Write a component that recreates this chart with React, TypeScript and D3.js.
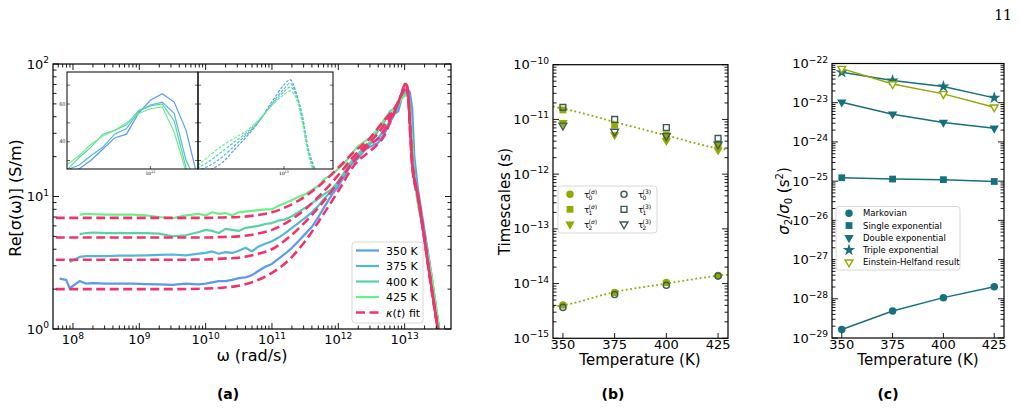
import * as d3 from 'd3'
import React from 'react'

// ---- (a) Re[sigma(omega)] spectra ----
const temps = [350, 375, 400, 425]
const tempLabels = ['350 K', '375 K', '400 K', '425 K']
const mdOmega = [6.3e7, 7.9e7, 8.9e7, 1.26e8, 1.58e8, 2e8, 3.16e8, 5e8, 7.9e8, 1.26e9, 2e9, 3.16e9, 5e9, 7.9e9, 1e10, 1.26e10, 1.58e10, 2e10, 2.5e10, 3.16e10, 4e10, 5e10, 6.3e10, 7.9e10, 1e11, 1.26e11, 1.58e11, 2e11, 2.5e11, 3.16e11, 4e11, 5e11, 6.3e11, 7.9e11, 1e12, 1.26e12, 1.58e12, 2e12, 2.5e12, 3.16e12, 4e12, 5e12, 6e12, 7e12, 8e12, 9e12, 1e13, 1.1e13, 1.2e13, 1.3e13, 1.4e13, 1.6e13, 2e13, 2.5e13, 3.3e13]
const md350 = [2.4, 2.35, 2.03, 2.3, 2.2, 2.22, 2.2, 2.2, 2.2, 2.18, 2.17, 2.15, 2.2, 2.17, 2.2, 2.25, 2.3, 2.3, 2.35, 2.42, 2.45, 2.55, 2.75, 2.95, 3.1, 3.4, 3.7, 4.1, 4.6, 5.2, 5.9, 7.0, 8.5, 10.2, 12.0, 14.5, 17.5, 19.5, 22.5, 24, 25.5, 30, 36, 42, 44, 55, 62, 65.5, 61, 46, 20, 11, 5.5, 2.7, 0.98]
const md375 = [NaN, NaN, 3.2, 3.5, 3.55, 3.55, 3.55, 3.58, 3.58, 3.6, 3.62, 3.65, 3.6, 3.7, 3.75, 3.85, 3.7, 3.8, 3.75, 3.9, 4.1, 3.85, 4.2, 4.4, 4.6, 4.9, 5.3, 5.8, 6.3, 6.9, 7.6, 8.5, 9.8, 11.0, 12.8, 15, 18, 20, 23, 25.5, 27.5, 32.5, 37, 44, 47, 56, 59.5, 61, 55, 30, 17, 9.5, 5.2, 2.6, 1.0]
const md400 = [NaN, NaN, NaN, 5.2, 5.3, 5.35, 5.3, 5.3, 5.3, 5.3, 5.25, 5.0, 5.1, 5.4, 5.6, 5.5, 5.3, 5.7, 5.6, 5.5, 5.8, 5.9, 6.0, 6.2, 6.3, 6.6, 6.7, 7.1, 7.6, 8.2, 8.9, 9.6, 10.5, 11.3, 13, 15.5, 18.5, 21, 24, 26, 31.5, 37, 44, 46, 49, 56.5, 59, 60, 51, 26, 15, 9, 5, 2.6, 1.02]
const md425 = [NaN, NaN, NaN, 7.3, 7.4, 7.35, 7.3, 7.3, 7.3, 7.2, 7.0, 6.85, 7.2, 7.4, 7.2, 7.6, 7.4, 7.5, 7.2, 7.6, 7.7, 7.8, 7.9, 8.0, 8.0, 8.5, 8.9, 9.4, 9.9, 10.4, 11.2, 12.0, 13.7, 14.5, 16.2, 18, 21, 24, 26, 28.5, 32.5, 38.5, 43, 46, 50, 55, 57.5, 58.5, 45, 24, 13, 8.5, 4.8, 2.7, 1.05]
const fitOmega = [5.5e7, 1e8, 3.16e8, 1e9, 3.16e9, 1e10, 1.78e10, 3.16e10, 5.6e10, 1e11, 1.78e11, 3.16e11, 5.6e11, 1e12, 1.78e12, 3e12, 4e12, 5e12, 6e12, 7e12, 8e12, 9e12, 1e13, 1.05e13, 1.1e13, 1.15e13, 1.2e13, 1.25e13, 1.3e13, 1.6e13, 2e13, 2.5e13, 3.2e13]
const fit350 = [2.0, 2.0, 2.0, 2.0, 2.0, 2.02, 2.05, 2.12, 2.3, 2.65, 3.3, 4.6, 7.0, 11.0, 17.5, 22, 25, 29, 36, 43, 51, 61, 70, 73, 66, 53, 36, 26, 19, 10, 4.8, 2.2, 0.98]
const fit375 = [3.33, 3.33, 3.33, 3.33, 3.33, 3.35, 3.4, 3.45, 3.65, 4.0, 4.9, 6.4, 8.8, 12.8, 19, 24.5, 27.5, 32, 38, 44, 51, 60, 68, 71, 65, 54, 35, 25, 18, 10, 4.7, 2.2, 0.97]
const fit400 = [4.9, 4.9, 4.9, 4.9, 4.9, 4.9, 4.95, 5.0, 5.2, 5.6, 6.5, 8.0, 10.5, 14.5, 20.5, 26, 30, 35, 40, 45, 51.5, 59.5, 66.5, 69, 64.5, 52, 34, 24, 17.5, 9.8, 4.7, 2.15, 0.96]
const fit425 = [6.9, 6.9, 6.9, 6.9, 6.9, 6.9, 6.95, 7.0, 7.2, 7.6, 8.5, 10, 12.5, 16.5, 22, 27.5, 33, 38, 42, 46, 52, 59, 65, 67, 63, 50, 33, 23, 17, 9.5, 4.6, 2.1, 0.95]
const xTicksA = [1e8, 1e9, 1e10, 1e11, 1e12, 1e13]
const xExpA = ['8', '9', '10', '11', '12', '13']
const yTicksA = [1, 10, 100]
const yExpA = ['0', '1', '2']
const insetTicks = [30, 40, 50, 60, 70]
const insetLabels = [40, 60]

// ---- (b) timescales ----
const tempTicks = [350, 375, 400, 425]
const tau0Sigma = [4.05e-15, 6.9e-15, 1.05e-14, 1.4e-14]
const tau1Sigma = [1.49e-11, 7.9e-12, 5.2e-12, 3.4e-12]
const tau2Sigma = [8.7e-12, 5.2e-12, 4.1e-12, 2.75e-12]
const tau0Three = [3.67e-15, 6.3e-15, 9.3e-15, 1.37e-14]
const tau1Three = [1.66e-11, 1.0e-11, 7.1e-12, 4.5e-12]
const tau2Three = [7.8e-12, 6.0e-12, 5.0e-12, 3.5e-12]
const dottedT = [345.2, 350, 375, 400, 425, 429.8]
const dottedUpper = [1.72e-11, 1.58e-11, 9.0e-12, 5.1e-12, 2.95e-12, 2.75e-12]
const dottedLower = [3.75e-15, 4.0e-15, 7.0e-15, 1.0e-14, 1.39e-14, 1.45e-14]
const yExpB = [-15, -14, -13, -12, -11, -10]

// ---- (c) sigma2/sigma0 ----
const markovian = [1.65e-29, 4.9e-29, 1.07e-28, 2.03e-28]
const singleExp = [1.22e-25, 1.13e-25, 1.09e-25, 9.8e-26]
const doubleExp = [1.03e-23, 5.1e-24, 3.15e-24, 2.23e-24]
const tripleExp = [6.0e-23, 3.7e-23, 2.6e-23, 1.33e-23]
const einsteinHelfand = [7.4e-23, 3.0e-23, 1.68e-23, 7.7e-24]
const legendC = ['Markovian', 'Single exponential', 'Double exponential', 'Triple exponential', 'Einstein-Helfand result']
const yExpC = [-29, -28, -27, -26, -25, -24, -23, -22]

const mdColors = ['#5a9bf0', '#55b6da', '#58d3a5', '#6bef8b']
const fitColor = '#f0346b'
const olive = '#94a800'
const slate = '#3e5b52'
const teal = '#17707a'
const FONT = 'DejaVu Sans, sans-serif'

const logMinor = (lo: number, hi: number) => {
    const out: number[] = []
    for (let e = Math.floor(Math.log10(lo)); e <= Math.ceil(Math.log10(hi)); e++)
        for (let k = 2; k < 10; k++) {
            const v = k * Math.pow(10, e)
            if (v > lo && v < hi) out.push(v)
        }
    return out
}
const sym = (type: any, size: number) => d3.symbol().type(type).size(size)() as string
const minus = (n: number) => (n < 0 ? '\u2212' + Math.abs(n) : String(n))

const Pow = ({ x, y, exp, anchor = 'middle', size = 13 }: any) => (
    <text x={x} y={y} textAnchor={anchor} fontSize={size}>
        10<tspan dy={-size * 0.42} fontSize={size * 0.7}>{exp}</tspan>
    </text>
)

const Tau = ({ x, y, sub, sup }: any) => (
    <g fontSize={6}>
        <text x={x} y={y} fontSize={9}>τ</text>
        <text x={x + 4.6} y={y + 2.4}>{sub}</text>
        <text x={x + 4.6} y={y - 3.4}>{sup}</text>
    </g>
)

export default function App() {
    // (a)
    const xA = d3.scaleLog().domain([5e7, 5e13]).range([53, 451])
    const yA = d3.scaleLog().domain([1, 100]).range([329, 64])
    const pts = (om: number[], v: number[]) => om.map((w, i) => [w, v[i]] as [number, number])
    const mdLine = d3.line<[number, number]>().defined(d => !isNaN(d[1])).x(d => xA(d[0])).y(d => yA(d[1]))
    const fitLine = d3.line<[number, number]>().x(d => xA(d[0])).y(d => yA(d[1])).curve(d3.curveMonotoneX)
    const mdSets = [md350, md375, md400, md425]
    const fitSets = [fit350, fit375, fit400, fit425]
    const xL = d3.scaleLinear().domain([3e12, 1.4e13]).range([67, 198])
    const xR = d3.scaleLinear().domain([3e12, 1.4e13]).range([198, 333])
    const yI = d3.scaleLinear().domain([25.5, 77]).range([169, 72])
    const insetMd = d3.line<[number, number]>().defined(d => !isNaN(d[1])).x(d => xL(d[0])).y(d => yI(d[1]))
    const insetFit = d3.line<[number, number]>().x(d => xR(d[0])).y(d => yI(d[1])).curve(d3.curveMonotoneX)
    const minorXA = logMinor(5e7, 5e13)
    const minorYA = logMinor(1, 100)

    // (b)
    const xB = d3.scaleLinear().domain([345.2, 429.8]).range([553, 728])
    const yB = d3.scaleLog().domain([1e-15, 1e-10]).range([338.3, 64.7])
    const dotB = d3.line<[number, number]>().x(d => xB(d[0])).y(d => yB(d[1])).curve(d3.curveMonotoneX)
    const minorYB = logMinor(1e-15, 1e-10)

    // (c)
    const xC = d3.scaleLinear().domain([345.2, 429.8]).range([832, 1004])
    const yC = d3.scaleLog().domain([1e-29, 1e-22]).range([338, 63.5])
    const lineC = d3.line<[number, number]>().x(d => xC(d[0])).y(d => yC(d[1]))
    const minorYC = logMinor(1e-29, 1e-22)

    const circle = sym(d3.symbolCircle, 44)
    const square = sym(d3.symbolSquare, 46)
    const tri = sym(d3.symbolTriangle, 38)
    const star = sym(d3.symbolStar, 48)
    const openTri = sym(d3.symbolTriangle, 26)

    const seriesC = [
        { v: markovian, d: circle, rot: false },
        { v: singleExp, d: square, rot: false },
        { v: doubleExp, d: tri, rot: true },
        { v: tripleExp, d: star, rot: false },
    ]

    return (
        <svg width={1021} height={409} style={{ position: 'absolute', left: 0, top: 0, background: 'white' }} fontFamily={FONT}>
            <defs>
                <clipPath id="clipA"><rect x={53} y={64} width={398} height={265} /></clipPath>
                <clipPath id="clipL"><rect x={67} y={72} width={131} height={97} /></clipPath>
                <clipPath id="clipR"><rect x={198} y={72} width={135} height={97} /></clipPath>
            </defs>
            <text x={1012} y={20} textAnchor="end" fontSize={14} fontFamily="DejaVu Serif, serif">11</text>

            {/* ---------- (a) ---------- */}
            <g clipPath="url(#clipA)">
                {mdSets.map((v, i) => (
                    <path key={'md' + i} d={mdLine(pts(mdOmega, v)) || ''} fill="none" stroke={mdColors[i]} strokeWidth={2.2} strokeLinejoin="round" />
                ))}
                {fitSets.map((v, i) => (
                    <path key={'fit' + i} d={fitLine(pts(fitOmega, v)) || ''} fill="none" stroke={fitColor} strokeWidth={2.6} strokeDasharray="9,4.5" />
                ))}
            </g>
            <g stroke="black" strokeWidth={0.9}>
                {xTicksA.map(t => (
                    <g key={'xa' + t}>
                        <line x1={xA(t)} x2={xA(t)} y1={329} y2={323} />
                        <line x1={xA(t)} x2={xA(t)} y1={64} y2={70} />
                    </g>
                ))}
                {minorXA.map(t => (
                    <g key={'xam' + t}>
                        <line x1={xA(t)} x2={xA(t)} y1={329} y2={325.5} />
                        <line x1={xA(t)} x2={xA(t)} y1={64} y2={67.5} />
                    </g>
                ))}
                {yTicksA.map(t => (
                    <g key={'ya' + t}>
                        <line x1={53} x2={59} y1={yA(t)} y2={yA(t)} />
                        <line x1={451} x2={445} y1={yA(t)} y2={yA(t)} />
                    </g>
                ))}
                {minorYA.map(t => (
                    <g key={'yam' + t}>
                        <line x1={53} x2={56.5} y1={yA(t)} y2={yA(t)} />
                        <line x1={451} x2={447.5} y1={yA(t)} y2={yA(t)} />
                    </g>
                ))}
            </g>
            <rect x={53} y={64} width={398} height={265} fill="none" stroke="black" strokeWidth={1.2} />
            {xTicksA.map((t, i) => <Pow key={'xla' + t} x={xA(t)} y={344} exp={xExpA[i]} />)}
            {yTicksA.map((t, i) => <Pow key={'yla' + t} x={49} y={yA(t) + 4.5} exp={yExpA[i]} anchor="end" />)}
            <text x={252} y={361} textAnchor="middle" fontSize={16}>ω (rad/s)</text>
            <text transform="translate(21,198) rotate(-90)" textAnchor="middle" fontSize={16}>Re[σ(ω)] (S/m)</text>

            {/* insets */}
            <rect x={67} y={72} width={266} height={97} fill="white" />
            <g clipPath="url(#clipL)">
                {mdSets.map((v, i) => (
                    <path key={'imd' + i} d={insetMd(pts(mdOmega, v)) || ''} fill="none" stroke={mdColors[i]} strokeWidth={1.2} />
                ))}
            </g>
            <g clipPath="url(#clipR)">
                {fitSets.map((v, i) => (
                    <path key={'ifit' + i} d={insetFit(pts(fitOmega, v)) || ''} fill="none" stroke={mdColors[i]} strokeWidth={1.2} strokeDasharray="3,1.5" />
                ))}
            </g>
            <g stroke="black" strokeWidth={0.6}>
                {insetTicks.map(t => (
                    <g key={'it' + t}>
                        <line x1={67} x2={70} y1={yI(t)} y2={yI(t)} />
                        <line x1={198} x2={195} y1={yI(t)} y2={yI(t)} />
                        <line x1={198} x2={201} y1={yI(t)} y2={yI(t)} />
                        <line x1={333} x2={330} y1={yI(t)} y2={yI(t)} />
                    </g>
                ))}
                <line x1={xL(1e13)} x2={xL(1e13)} y1={169} y2={166} />
                <line x1={xR(1e13)} x2={xR(1e13)} y1={169} y2={166} />
            </g>
            <rect x={67} y={72} width={131} height={97} fill="none" stroke="black" strokeWidth={1} />
            <rect x={198} y={72} width={135} height={97} fill="none" stroke="black" strokeWidth={1} />
            {insetLabels.map(t => (
                <text key={'il' + t} x={65.5} y={yI(t) + 1.8} textAnchor="end" fontSize={5} fill="#333">{t}</text>
            ))}
            <Pow x={xL(1e13)} y={175} exp="13" size={4.5} />
            <Pow x={xR(1e13)} y={175} exp="13" size={4.5} />

            {/* legend (a) */}
            <rect x={352} y={242} width={71} height={81} rx={3} fill="white" fillOpacity={0.85} stroke="#d8d8d8" />
            {temps.map((t, i) => (
                <g key={'lga' + t}>
                    <line x1={356} x2={379} y1={250.5 + i * 15.5} y2={250.5 + i * 15.5} stroke={mdColors[i]} strokeWidth={2.2} />
                    <text x={386} y={254.5 + i * 15.5} fontSize={11}>{tempLabels[i]}</text>
                </g>
            ))}
            <line x1={356} x2={379} y1={312.5} y2={312.5} stroke={fitColor} strokeWidth={2.6} strokeDasharray="9,4.5" />
            <text x={386} y={316.5} fontSize={11}>
                <tspan fontStyle="italic">κ</tspan>(<tspan fontStyle="italic">t</tspan>) fit
            </text>
            <text x={228} y={399} textAnchor="middle" fontSize={14} fontWeight="bold">(a)</text>

            {/* ---------- (b) ---------- */}
            <path d={dotB(dottedT.map((t, i) => [t, dottedUpper[i]] as [number, number])) || ''} fill="none" stroke={olive} strokeWidth={1.8} strokeDasharray="1.8,2.6" />
            <path d={dotB(dottedT.map((t, i) => [t, dottedLower[i]] as [number, number])) || ''} fill="none" stroke={olive} strokeWidth={1.8} strokeDasharray="1.8,2.6" />
            {temps.map((t, i) => (
                <g key={'bf' + t} fill={olive}>
                    <path d={circle} transform={`translate(${xB(t)},${yB(tau0Sigma[i])})`} />
                    <path d={square} transform={`translate(${xB(t)},${yB(tau1Sigma[i])})`} />
                    <path d={tri} transform={`translate(${xB(t)},${yB(tau2Sigma[i])}) rotate(180)`} />
                </g>
            ))}
            {temps.map((t, i) => (
                <g key={'bo' + t} fill="none" stroke={slate} strokeWidth={1.4}>
                    <path d={sym(d3.symbolCircle, 30)} transform={`translate(${xB(t)},${yB(tau0Three[i])})`} />
                    <path d={sym(d3.symbolSquare, 34)} transform={`translate(${xB(t)},${yB(tau1Three[i])})`} />
                    <path d={openTri} transform={`translate(${xB(t)},${yB(tau2Three[i])}) rotate(180)`} />
                </g>
            ))}
            <g stroke="black" strokeWidth={0.9}>
                {yExpB.map(e => (
                    <g key={'yb' + e}>
                        <line x1={553} x2={559} y1={yB(Math.pow(10, e))} y2={yB(Math.pow(10, e))} />
                        <line x1={728} x2={722} y1={yB(Math.pow(10, e))} y2={yB(Math.pow(10, e))} />
                    </g>
                ))}
                {minorYB.map(t => (
                    <g key={'ybm' + t}>
                        <line x1={553} x2={556.5} y1={yB(t)} y2={yB(t)} />
                        <line x1={728} x2={724.5} y1={yB(t)} y2={yB(t)} />
                    </g>
                ))}
                {tempTicks.map(t => <line key={'xb' + t} x1={xB(t)} x2={xB(t)} y1={338.3} y2={333} />)}
            </g>
            <rect x={553} y={64.7} width={175} height={273.6} fill="none" stroke="black" strokeWidth={1.2} />
            {yExpB.map(e => <Pow key={'ylb' + e} x={549} y={yB(Math.pow(10, e)) + 4.5} exp={minus(e)} anchor="end" />)}
            {tempTicks.map(t => <text key={'xlb' + t} x={xB(t)} y={349} textAnchor="middle" fontSize={13}>{t}</text>)}
            <text x={640} y={365} textAnchor="middle" fontSize={15}>Temperature (K)</text>
            <text transform="translate(510,201.5) rotate(-90)" textAnchor="middle" fontSize={15}>Timescales (s)</text>
            <rect x={558} y={186} width={99} height={47} rx={3} fill="white" fillOpacity={0.85} stroke="#d8d8d8" />
            {[circle, square, tri].map((d, i) => (
                <g key={'lgb' + i}>
                    <path d={d} fill={olive} transform={`translate(570,${194.3 + i * 15})${i === 2 ? ' rotate(180)' : ''}`} />
                    <Tau x={584} y={197.5 + i * 15} sub={String(i)} sup={<>(<tspan fontStyle="italic">σ</tspan>)</>} />
                    <path d={[sym(d3.symbolCircle, 30), sym(d3.symbolSquare, 34), openTri][i]} fill="none" stroke={slate} strokeWidth={1.4}
                        transform={`translate(624,${194.3 + i * 15})${i === 2 ? ' rotate(180)' : ''}`} />
                    <Tau x={638} y={197.5 + i * 15} sub={String(i)} sup="(3)" />
                </g>
            ))}
            <text x={613} y={399} textAnchor="middle" fontSize={14} fontWeight="bold">(b)</text>

            {/* ---------- (c) ---------- */}
            {seriesC.map((s, k) => (
                <g key={'c' + k}>
                    <path d={lineC(temps.map((t, i) => [t, s.v[i]] as [number, number])) || ''} fill="none" stroke={teal} strokeWidth={1.5} />
                    {temps.map((t, i) => (
                        <path key={i} d={s.d} fill={teal} transform={`translate(${xC(t)},${yC(s.v[i])})${s.rot ? ' rotate(180)' : ''}`} />
                    ))}
                </g>
            ))}
            <path d={lineC(temps.map((t, i) => [t, einsteinHelfand[i]] as [number, number])) || ''} fill="none" stroke={olive} strokeWidth={1.5} />
            {temps.map((t, i) => (
                <path key={'eh' + t} d={openTri} fill="white" stroke={olive} strokeWidth={1.4}
                    transform={`translate(${xC(t)},${yC(einsteinHelfand[i])}) rotate(180)`} />
            ))}
            <g stroke="black" strokeWidth={0.9}>
                {yExpC.map(e => (
                    <g key={'yc' + e}>
                        <line x1={832} x2={838} y1={yC(Math.pow(10, e))} y2={yC(Math.pow(10, e))} />
                        <line x1={1004} x2={998} y1={yC(Math.pow(10, e))} y2={yC(Math.pow(10, e))} />
                    </g>
                ))}
                {minorYC.map(t => (
                    <g key={'ycm' + t}>
                        <line x1={832} x2={835.5} y1={yC(t)} y2={yC(t)} />
                        <line x1={1004} x2={1000.5} y1={yC(t)} y2={yC(t)} />
                    </g>
                ))}
                {tempTicks.map(t => <line key={'xc' + t} x1={xC(t)} x2={xC(t)} y1={338} y2={333} />)}
            </g>
            <rect x={832} y={63.5} width={172} height={274.5} fill="none" stroke="black" strokeWidth={1.2} />
            {yExpC.map(e => <Pow key={'ylc' + e} x={828} y={yC(Math.pow(10, e)) + 4.5} exp={minus(e)} anchor="end" />)}
            {tempTicks.map(t => <text key={'xlc' + t} x={xC(t)} y={349} textAnchor="middle" fontSize={13}>{t}</text>)}
            <text x={918} y={365} textAnchor="middle" fontSize={15}>Temperature (K)</text>
            <text transform="translate(789,201) rotate(-90)" textAnchor="middle" fontSize={15}>
                <tspan fontStyle="italic">σ</tspan><tspan fontSize={10} dy={3}>2</tspan><tspan dy={-3}>/</tspan>
                <tspan fontStyle="italic">σ</tspan><tspan fontSize={10} dy={3}>0</tspan><tspan dy={-3}>{' (s'}</tspan>
                <tspan fontSize={10} dy={-6}>2</tspan><tspan dy={6}>)</tspan>
            </text>
            <rect x={836} y={206.5} width={124} height={63.5} rx={3} fill="white" fillOpacity={0.85} stroke="#d8d8d8" />
            {legendC.map((lab, i) => {
                const y = 213.3 + i * 12.25
                const isEH = i === 4
                const d = [circle, square, tri, star, openTri][i]
                return (
                    <g key={'lgc' + i}>
                        <path d={d} fill={isEH ? 'white' : teal} stroke={isEH ? olive : 'none'} strokeWidth={1.4}
                            transform={`translate(849,${y})${i === 2 || isEH ? ' rotate(180)' : ''}`} />
                        <text x={863} y={y + 3} fontSize={8.5}>{lab}</text>
                    </g>
                )
            })}
            <text x={888} y={399} textAnchor="middle" fontSize={14} fontWeight="bold">(c)</text>
        </svg>
    )
}
